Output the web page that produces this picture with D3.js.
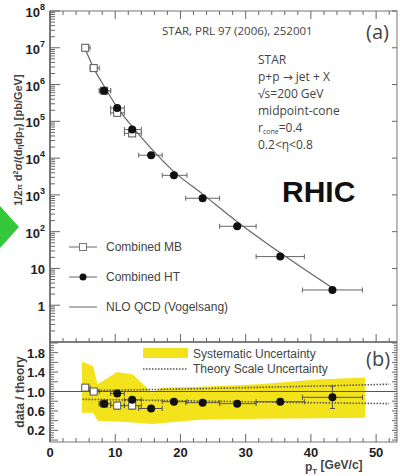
<!DOCTYPE html>
<html>
<head>
<meta charset="utf-8">
<script src="https://cdn.jsdelivr.net/npm/d3@7"></script>
<style>
  body { margin: 0; background: #fff; }
  svg { display: block; }
  .tick-label { font-family: "Liberation Sans", Arial, sans-serif; font-weight: bold; font-size: 13px; fill: #222; }
  .txt { font-family: "Liberation Sans", Arial, sans-serif; fill: #444; }
  .ann { font-family: "Open Sans", "DejaVu Sans", sans-serif; fill: #444; }
</style>
</head>
<body>
<svg width="400" height="476"></svg>
<script>
// Combined MB (open squares)
const ptMB = [5.4, 6.7, 8.3, 10.3, 12.6];
const loMB = [5.0, 6.15, 7.55, 9.3, 11.4];
const hiMB = [6.15, 7.55, 9.3, 11.4, 14.0];
const xsMB = [1.0e7, 2.8e6, 6.8e5, 1.7e5, 4.7e4];
const ratioMB = [1.08, 1.0, 0.75, 0.71, 0.71];
const errMB = [0.03, 0.03, 0.04, 0.07, 0.07];

// Combined HT (filled circles)
const ptHT = [8.3, 10.3, 12.6, 15.5, 19.0, 23.4, 28.7, 35.3, 43.3];
const loHT = [7.55, 9.3, 11.4, 13.6, 17.2, 20.8, 26.0, 31.6, 38.7];
const hiHT = [9.3, 11.4, 14.0, 17.2, 21.0, 26.0, 31.6, 39.0, 47.9];
const xsHT = [6.8e5, 2.3e5, 6.0e4, 1.2e4, 3.4e3, 810, 140, 21, 2.6];
const ratioHT = [0.75, 0.96, 0.83, 0.65, 0.79, 0.77, 0.75, 0.79, 0.88];
const errHT = [0.03, 0.04, 0.04, 0.03, 0.03, 0.03, 0.04, 0.05, 0.23];

// NLO QCD (Vogelsang)
const nloPt = [5.4, 6.7, 8.3, 10.3, 12.6, 15.5, 19.0, 23.4, 28.7, 35.3, 43.3];
const nloXs = [9.3e6, 2.8e6, 9.0e5, 2.4e5, 7.2e4, 1.85e4, 4.3e3, 1.05e3, 187, 26.6, 2.95];

// systematic uncertainty band (ratio panel)
const sysPt = [4.9, 6.6, 7.3, 10.3, 12.7, 15.6, 17.3, 23, 32, 41, 48.3];
const sysHi = [1.62, 1.52, 1.15, 1.40, 1.35, 0.98, 1.08, 1.10, 1.15, 1.25, 1.29];
const sysLo = [0.56, 0.56, 0.40, 0.38, 0.36, 0.33, 0.35, 0.42, 0.44, 0.45, 0.46];

// theory scale uncertainty (dotted)
const tsPt = [5, 10, 20, 30, 40, 52];
const tsHi = [1.02, 1.03, 1.05, 1.08, 1.11, 1.15];
const tsLo = [0.84, 0.83, 0.81, 0.79, 0.77, 0.75];

const xTicks = [0, 10, 20, 30, 40, 50];
const ratioLabels = [0.2, 0.6, 1.0, 1.4, 1.8];

const svg = d3.select("svg");
const L = 50, R = 397, T = 11, M = 342, B = 442;

const x = d3.scaleLinear().domain([0, 53.2]).range([L, R]);
const yTop = d3.scaleLog().domain([0.1, 1e8]).range([M, T]);
const yBot = d3.scaleLinear().domain([-0.04, 2.02]).range([B, M]);

const axisColor = "#777";

// ---- ratio panel band first (under everything) ----
const band = d3.area()
    .x((d, i) => x(sysPt[i]))
    .y0((d, i) => yBot(sysLo[i]))
    .y1((d, i) => yBot(sysHi[i]));
svg.append("path").datum(sysPt).attr("d", band).attr("fill", "#f3e31c");

// ---- frames ----
svg.append("rect").attr("x", L).attr("y", T).attr("width", R - L).attr("height", B - T)
    .attr("fill", "none").attr("stroke", axisColor).attr("stroke-width", 1);
svg.append("line").attr("x1", L).attr("x2", R).attr("y1", M).attr("y2", M)
    .attr("stroke", "#555").attr("stroke-width", 1.3);
svg.append("line").attr("x1", L).attr("x2", L).attr("y1", T).attr("y2", B)
    .attr("stroke", "#555").attr("stroke-width", 1.3);

const g = svg.append("g").attr("stroke", "#666").attr("stroke-width", 1);

// x ticks (every 2 GeV, long every 10)
const xMinor = d3.range(0, 53, 2);
[[T, 1], [M, -1], [B, -1]].forEach(([y0, dir]) => {
  xMinor.forEach(v => {
    const len = v % 10 === 0 ? 8 : 4;
    g.append("line").attr("x1", x(v)).attr("x2", x(v)).attr("y1", y0).attr("y2", y0 + dir * len);
  });
});

// log axis ticks
for (let k = -1; k <= 8; k++) {
  const v = Math.pow(10, k);
  if (k >= 0) {
    g.append("line").attr("x1", L).attr("x2", L + 10).attr("y1", yTop(v)).attr("y2", yTop(v));
    g.append("line").attr("x1", R).attr("x2", R - 5).attr("y1", yTop(v)).attr("y2", yTop(v));
  }
  if (k < 8) {
    for (let m = 2; m <= 9; m++) {
      const vv = m * v;
      g.append("line").attr("x1", L).attr("x2", L + 5).attr("y1", yTop(vv)).attr("y2", yTop(vv));
    }
  }
}

// ratio axis ticks
d3.range(0, 2.001, 0.05).forEach(v => {
  const major = Math.abs(Math.round(v * 5) - v * 5) < 1e-6;
  const len = major ? 8 : 4;
  g.append("line").attr("x1", L).attr("x2", L + len).attr("y1", yBot(v)).attr("y2", yBot(v));
  g.append("line").attr("x1", R).attr("x2", R - (major ? 5 : 3)).attr("y1", yBot(v)).attr("y2", yBot(v));
});

// ---- tick labels ----
for (let k = 0; k <= 8; k++) {
  const t = svg.append("text").attr("class", "tick-label").attr("text-anchor", "end")
      .attr("y", yTop(Math.pow(10, k)) + 6);
  if (k === 0) t.attr("x", 45).text("1");
  else if (k === 1) t.attr("x", 45).text("10");
  else {
    t.attr("x", 45);
    t.append("tspan").text("10");
    t.append("tspan").attr("dy", -7).attr("font-size", 9).text(k);
  }
}
ratioLabels.forEach(v => {
  svg.append("text").attr("class", "tick-label").attr("text-anchor", "end")
      .attr("x", 45).attr("y", yBot(v) + 5).text(v.toFixed(1));
});
xTicks.forEach(v => {
  svg.append("text").attr("class", "tick-label").attr("text-anchor", "middle")
      .attr("x", x(v)).attr("y", 457).text(v);
});

// axis titles
const yt = svg.append("text").attr("class", "txt").attr("font-size", 11).attr("font-weight", "bold")
    .attr("fill", "#333").attr("text-anchor", "middle")
    .attr("transform", "translate(22,140) rotate(-90)");
yt.append("tspan").text("1/2");
yt.append("tspan").text("π").attr("font-size", 8);
yt.append("tspan").text(" d");
yt.append("tspan").text("2").attr("font-size", 7).attr("dy", -4);
yt.append("tspan").text("σ/(d").attr("dy", 4);
yt.append("tspan").text("η").attr("font-size", 8);
yt.append("tspan").text("dp");
yt.append("tspan").text("T").attr("font-size", 7).attr("dy", 2);
yt.append("tspan").text(") [pb/GeV]").attr("dy", -2);

svg.append("text").attr("class", "txt").attr("font-size", 12).attr("font-weight", "bold")
    .attr("fill", "#333").attr("text-anchor", "middle")
    .attr("transform", "translate(24,392) rotate(-90)").text("data / theory");

const xt = svg.append("text").attr("class", "txt").attr("font-size", 12).attr("font-weight", "bold")
    .attr("fill", "#333").attr("x", 305).attr("y", 471);
xt.append("tspan").text("p");
xt.append("tspan").text("T").attr("font-size", 8).attr("dy", 3);
xt.append("tspan").text("  [GeV/c]").attr("dy", -5);

// ---- top panel: NLO curve ----
const nloLine = d3.line()
    .x((d, i) => x(nloPt[i]))
    .y((d, i) => yTop(nloXs[i]))
    .curve(d3.curveMonotoneX);
svg.append("path").datum(nloPt).attr("d", nloLine)
    .attr("fill", "none").attr("stroke", "#666").attr("stroke-width", 1.2);

function errBars(sel, pts, lo, hi, yv, yerr, yScale) {
  pts.forEach((p, i) => {
    const yy = yScale(yv[i]);
    sel.append("line").attr("x1", x(lo[i])).attr("x2", x(hi[i])).attr("y1", yy).attr("y2", yy);
    sel.append("line").attr("x1", x(lo[i])).attr("x2", x(lo[i])).attr("y1", yy - 2.5).attr("y2", yy + 2.5);
    sel.append("line").attr("x1", x(hi[i])).attr("x2", x(hi[i])).attr("y1", yy - 2.5).attr("y2", yy + 2.5);
    if (yerr) {
      const y1 = yScale(yv[i] + yerr[i]), y2 = yScale(yv[i] - yerr[i]);
      sel.append("line").attr("x1", x(p)).attr("x2", x(p)).attr("y1", y1).attr("y2", y2);
      sel.append("line").attr("x1", x(p) - 2.5).attr("x2", x(p) + 2.5).attr("y1", y1).attr("y2", y1);
      sel.append("line").attr("x1", x(p) - 2.5).attr("x2", x(p) + 2.5).attr("y1", y2).attr("y2", y2);
    }
  });
}

const eb = svg.append("g").attr("stroke", "#666").attr("stroke-width", 1);
errBars(eb, ptMB, loMB, hiMB, xsMB, null, yTop);
errBars(eb, ptHT, loHT, hiHT, xsHT, null, yTop);

svg.append("g").selectAll("rect").data(ptMB).join("rect")
    .attr("x", d => x(d) - 3.5).attr("y", (d, i) => yTop(xsMB[i]) - 3.5)
    .attr("width", 7).attr("height", 7)
    .attr("fill", "#fff").attr("stroke", "#555").attr("stroke-width", 1);
svg.append("g").selectAll("circle").data(ptHT).join("circle")
    .attr("cx", d => x(d)).attr("cy", (d, i) => yTop(xsHT[i])).attr("r", 4)
    .attr("fill", "#111");

// ---- ratio panel ----
svg.append("line").attr("x1", L).attr("x2", R).attr("y1", yBot(1)).attr("y2", yBot(1))
    .attr("stroke", "#555").attr("stroke-width", 1);

[tsHi, tsLo].forEach(arr => {
  svg.append("path").datum(tsPt)
      .attr("d", d3.line().x((d, i) => x(tsPt[i])).y((d, i) => yBot(arr[i])))
      .attr("fill", "none").attr("stroke", "#555").attr("stroke-width", 1.6)
      .attr("stroke-dasharray", "1.5,1.5");
});

const eb2 = svg.append("g").attr("stroke", "#555").attr("stroke-width", 1);
errBars(eb2, ptMB, loMB, hiMB, ratioMB, errMB, yBot);
errBars(eb2, ptHT, loHT, hiHT, ratioHT, errHT, yBot);

svg.append("g").selectAll("rect").data(ptMB).join("rect")
    .attr("x", d => x(d) - 3.5).attr("y", (d, i) => yBot(ratioMB[i]) - 3.5)
    .attr("width", 7).attr("height", 7)
    .attr("fill", "#fff").attr("stroke", "#555").attr("stroke-width", 1);
svg.append("g").selectAll("circle").data(ptHT).join("circle")
    .attr("cx", d => x(d)).attr("cy", (d, i) => yBot(ratioHT[i])).attr("r", 4)
    .attr("fill", "#111");

// ---- legends ----
const legX0 = 69, legX1 = 97, legT = 106;
[[247, "MB"], [277, "HT"], [307, "NLO"]].forEach(([ly, kind]) => {
  svg.append("line").attr("x1", legX0).attr("x2", legX1).attr("y1", ly).attr("y2", ly)
      .attr("stroke", "#666").attr("stroke-width", 1);
  if (kind === "MB") {
    svg.append("rect").attr("x", 79.5).attr("y", ly - 3.5).attr("width", 7).attr("height", 7)
        .attr("fill", "#fff").attr("stroke", "#777");
  } else if (kind === "HT") {
    svg.append("circle").attr("cx", 83).attr("cy", ly).attr("r", 3.5).attr("fill", "#111");
  }
});
svg.append("text").attr("class", "txt").attr("font-size", 12).attr("x", legT).attr("y", 251).text("Combined MB");
svg.append("text").attr("class", "txt").attr("font-size", 12).attr("x", legT).attr("y", 281).text("Combined HT");
svg.append("text").attr("class", "txt").attr("font-size", 12).attr("x", legT).attr("y", 311).text("NLO QCD (Vogelsang)");

svg.append("rect").attr("x", 143).attr("y", 348).attr("width", 45).attr("height", 10).attr("fill", "#f3e31c");
svg.append("text").attr("class", "txt").attr("font-size", 12).attr("x", 193).attr("y", 358).text("Systematic Uncertainty");
svg.append("line").attr("x1", 143).attr("x2", 188).attr("y1", 369).attr("y2", 369)
    .attr("stroke", "#555").attr("stroke-width", 1.6).attr("stroke-dasharray", "1.5,1.5");
svg.append("text").attr("class", "txt").attr("font-size", 12).attr("x", 193).attr("y", 373).text("Theory Scale Uncertainty");

// ---- annotations ----
svg.append("text").attr("class", "ann").attr("font-size", 11.5).attr("x", 162).attr("y", 35)
    .text("STAR, PRL 97 (2006), 252001");
svg.append("text").attr("class", "ann").attr("font-size", 20).attr("x", 366).attr("y", 39).attr("fill", "#333").text("(a)");
svg.append("text").attr("class", "ann").attr("font-size", 20).attr("x", 366).attr("y", 366).attr("fill", "#333").text("(b)");

const annX = 258;
const lines = ["STAR", "p+p → jet + X", "√s=200  GeV", "midpoint-cone", "rcone", "0.2<η<0.8"];
lines.forEach((s, i) => {
  const t = svg.append("text").attr("class", "ann").attr("font-size", 12).attr("x", annX).attr("y", 64 + i * 17);
  if (s === "rcone") {
    t.append("tspan").text("r");
    t.append("tspan").text("cone").attr("font-size", 7).attr("dy", 2);
    t.append("tspan").text("=0.4").attr("dy", -2);
  } else {
    t.text(s);
  }
});

svg.append("text").attr("x", 282).attr("y", 202)
    .attr("font-family", "Liberation Sans, Arial, sans-serif").attr("font-weight", "bold")
    .attr("font-size", 30).attr("fill", "#111").text("RHIC");

// green marker on the left edge
svg.append("polygon").attr("points", "0,206 19,227 0,248").attr("fill", "#35c83a");
</script>
</body>
</html>
